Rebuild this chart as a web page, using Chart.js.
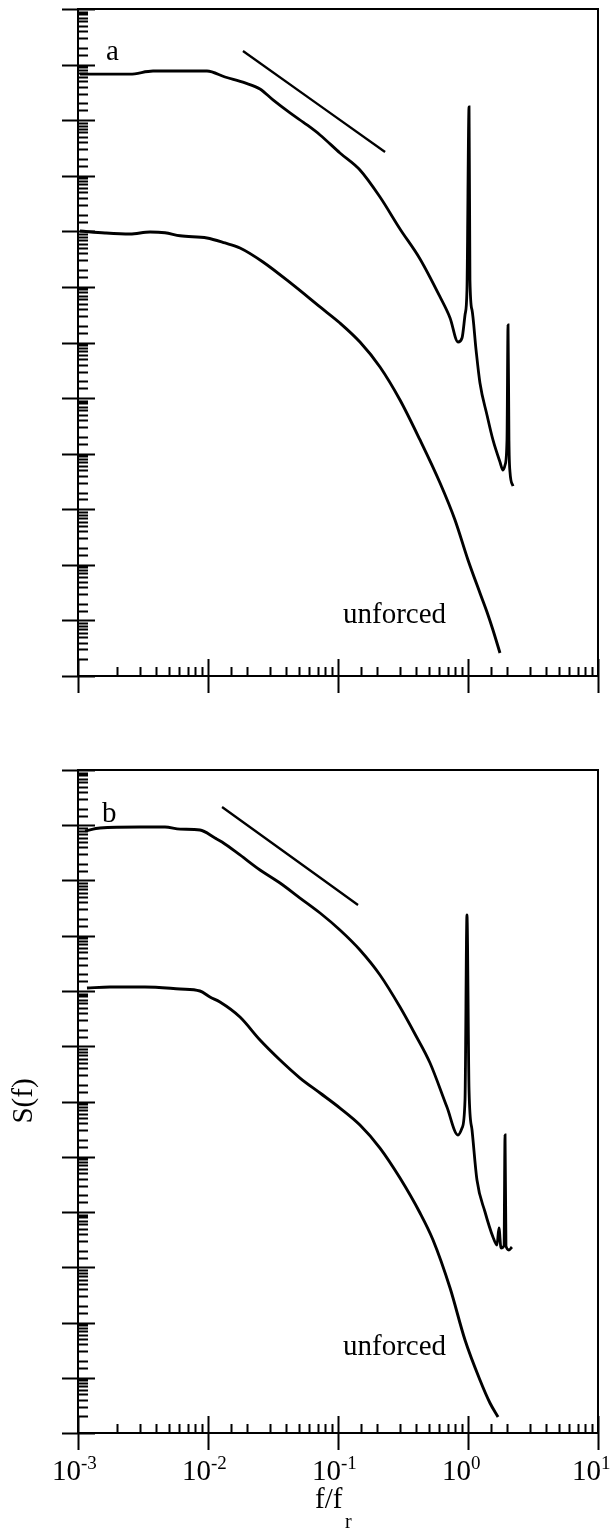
<!DOCTYPE html>
<html>
<head>
<meta charset="utf-8">
<title>S(f) spectra, forced and unforced</title>
<script src="https://cdn.jsdelivr.net/npm/chart.js@4.4.1/dist/chart.umd.min.js"></script>
<style>
    html, body { margin: 0; padding: 0; background: #fff; }
    .panel { position: absolute; left: 0; width: 616px; }
    #panelA { top: 0; height: 740px; }
    #panelB { top: 740px; height: 793px; }
</style>
</head>
<body>
<div class="panel" id="panelA"><canvas id="chartA" width="616" height="740"></canvas></div>
<div class="panel" id="panelB"><canvas id="chartB" width="616" height="793"></canvas></div>
<script>
// values are log10(f/fr) and log10(S) (S axis has no labels, decades only)
const F_MIN = 1e-3;
const F_MAX = 1e1;
const S_MIN = 1e0;
const S_MAX = 1e12;

// panel a
const aForcedF = [-2.985, -2.831, -2.6, -2.423, -2.215, -2.008, -1.869, -1.715, -1.6, -1.5, -1.369, -1.238, -1.138, -0.985,
    -0.831, -0.677, -0.523, -0.369, -0.215, -0.138, -0.077, -0.046, -0.023, -0.008, 0.008, 0.015, 0.031, 0.062, 0.092,
    0.146, 0.192, 0.246, 0.269, 0.285, 0.3, 0.308, 0.315, 0.323, 0.346];
const aForcedS = [10.83, 10.83, 10.83, 10.885, 10.885, 10.885, 10.777, 10.67, 10.561, 10.364, 10.13, 9.914, 9.734, 9.41,
    9.104, 8.618, 8.043, 7.503, 6.819, 6.441, 6.009, 6.081, 6.495, 6.945, 10.238, 7.125, 6.585, 5.865, 5.272,
    4.696, 4.246, 3.85, 3.706, 3.796, 4.246, 6.315, 4.246, 3.67, 3.418];

const aUnforcedF = [-2.985, -2.792, -2.6, -2.446, -2.331, -2.215, -2.008, -1.869, -1.754, -1.577, -1.346, -1.138, -0.985,
    -0.831, -0.677, -0.523, -0.369, -0.215, -0.1, 0, 0.092, 0.146, 0.192, 0.246];
const aUnforcedS = [8.006, 7.971, 7.953, 7.989, 7.975, 7.92, 7.881, 7.791, 7.701, 7.449, 7.035, 6.639, 6.351,
    6.009, 5.56, 4.966, 4.246, 3.472, 2.807, 2.087, 1.493, 1.151, 0.828, 0.414];

const aSlopeF = [-1.731, -0.638];
const aSlopeS = [11.245, 9.428];

// panel b
const bForcedF = [-2.946, -2.831, -2.523, -2.331, -2.215, -2.062, -1.946, -1.892, -1.754, -1.6, -1.446, -1.292, -1.138,
    -0.985, -0.831, -0.677, -0.523, -0.408, -0.292, -0.162, -0.077, -0.046, -0.023, -0.008, 0.008, 0.031, 0.069,
    0.131, 0.192, 0.223, 0.238, 0.254, 0.277, 0.285, 0.292, 0.315, 0.338];
const bForcedS = [10.896, 10.95, 10.968, 10.968, 10.93, 10.914, 10.769, 10.697, 10.462, 10.19, 9.955, 9.683, 9.412,
    9.104, 8.742, 8.29, 7.71, 7.222, 6.697, 5.9, 5.394, 5.52, 6.027, 9.376, 6.208, 5.484, 4.579,
    4.0, 3.548, 3.403, 3.71, 3.348, 3.385, 5.394, 3.385, 3.312, 3.367];

const bUnforcedF = [-2.931, -2.754, -2.485, -2.215, -2.062, -1.985, -1.908, -1.754, -1.6, -1.446, -1.292, -1.138, -0.985,
    -0.831, -0.677, -0.523, -0.369, -0.269, -0.138, -0.023, 0.092, 0.169, 0.231];
const bUnforcedS = [8.054, 8.072, 8.072, 8.036, 8.0, 7.891, 7.801, 7.529, 7.113, 6.751, 6.425, 6.154, 5.882,
    5.575, 5.158, 4.615, 3.982, 3.493, 2.624, 1.683, 0.959, 0.543, 0.29];

const bSlopeF = [-1.892, -0.846];
const bSlopeS = [11.33, 9.557];

const SERIF = "'Liberation Serif', 'Times New Roman', serif";

const toPoints = (logF, logS) => logF.map((lf, i) => ({ x: 10 ** lf, y: 10 ** logS[i] }));

const isDecade = (v) => {
    const l = Math.log10(v);
    return Math.abs(l - Math.round(l)) < 1e-6;
};

// frame, inward log ticks, decade labels and the little annotations
const framePlugin = {
    id: 'frame',
    afterDraw(chart, args, opts) {
        const { ctx, chartArea } = chart;
        const { left, right, top, bottom } = chartArea;
        const xs = chart.scales.x;
        const ys = chart.scales.y;

        ctx.save();
        ctx.strokeStyle = '#000';
        ctx.fillStyle = '#000';
        ctx.lineWidth = 2;
        ctx.strokeRect(left, top, right - left, bottom - top);

        ctx.beginPath();
        xs.ticks.forEach((t) => {
            const px = Math.round(xs.getPixelForValue(t.value)) + 0.5;
            if (isDecade(t.value)) {
                ctx.moveTo(px, bottom - 17);
                ctx.lineTo(px, bottom + 17);
            } else {
                ctx.moveTo(px, bottom);
                ctx.lineTo(px, bottom - 9);
            }
        });
        ys.ticks.forEach((t) => {
            const py = Math.round(ys.getPixelForValue(t.value)) + 0.5;
            if (isDecade(t.value)) {
                ctx.moveTo(left - 16, py);
                ctx.lineTo(left + 17, py);
            } else {
                ctx.moveTo(left, py);
                ctx.lineTo(left + 10, py);
            }
        });
        ctx.stroke();

        if (opts.tickLabels) {
            xs.ticks.filter((t) => isDecade(t.value)).forEach((t) => {
                const px = xs.getPixelForValue(t.value);
                const exp = Math.round(Math.log10(t.value));
                ctx.font = `29px ${SERIF}`;
                ctx.textAlign = 'right';
                ctx.textBaseline = 'alphabetic';
                ctx.fillText('10', px + 3, bottom + 47);
                ctx.font = `19px ${SERIF}`;
                ctx.textAlign = 'left';
                ctx.fillText(String(exp), px + 3, bottom + 36);
            });
        }

        (opts.texts || []).forEach((item) => {
            ctx.save();
            ctx.font = `${item.size || 29}px ${SERIF}`;
            ctx.textAlign = item.align || 'left';
            ctx.textBaseline = item.baseline || 'alphabetic';
            ctx.translate(item.x, item.y);
            if (item.rotate) ctx.rotate(item.rotate);
            ctx.fillText(item.text, 0, 0);
            ctx.restore();
        });
        ctx.restore();
    }
};

function lineSet(points, width) {
    return {
        data: points,
        showLine: true,
        borderColor: '#000',
        backgroundColor: '#000',
        borderWidth: width,
        pointRadius: 0,
        cubicInterpolationMode: 'monotone',
        fill: false
    };
}

function drawPanel(canvasId, series, padding, frameOpts) {
    return new Chart(document.getElementById(canvasId), {
        type: 'scatter',
        data: {
            datasets: [
                lineSet(toPoints(series.forcedF, series.forcedS), 2.8),
                lineSet(toPoints(series.unforcedF, series.unforcedS), 2.9),
                lineSet(toPoints(series.slopeF, series.slopeS), 2.3)
            ]
        },
        options: {
            responsive: false,
            animation: false,
            events: [],
            layout: { padding },
            plugins: {
                legend: { display: false },
                tooltip: { enabled: false },
                frame: frameOpts
            },
            scales: {
                x: {
                    type: 'logarithmic',
                    min: F_MIN,
                    max: F_MAX,
                    ticks: { display: false, autoSkip: false },
                    grid: { display: false, drawTicks: false },
                    border: { display: false }
                },
                y: {
                    type: 'logarithmic',
                    min: S_MIN,
                    max: S_MAX,
                    ticks: { display: false, autoSkip: false },
                    grid: { display: false, drawTicks: false },
                    border: { display: false }
                }
            }
        },
        plugins: [framePlugin]
    });
}

drawPanel('chartA', {
    forcedF: aForcedF, forcedS: aForcedS,
    unforcedF: aUnforcedF, unforcedS: aUnforcedS,
    slopeF: aSlopeF, slopeS: aSlopeS
}, { left: 78, right: 18, top: 9, bottom: 64 }, {
    tickLabels: false,
    texts: [
        { text: 'a', x: 106, y: 60 },
        { text: 'unforced', x: 343, y: 623 }
    ]
});

drawPanel('chartB', {
    forcedF: bForcedF, forcedS: bForcedS,
    unforcedF: bUnforcedF, unforcedS: bUnforcedS,
    slopeF: bSlopeF, slopeS: bSlopeS
}, { left: 78, right: 18, top: 30, bottom: 100 }, {
    tickLabels: true,
    texts: [
        { text: 'b', x: 102, y: 82 },
        { text: 'unforced', x: 343, y: 615 },
        { text: 'f/f', x: 315, y: 768 },
        { text: 'r', x: 345, y: 788, size: 20 },
        { text: 'S(f)', x: 24, y: 361, align: 'center', baseline: 'middle', rotate: -Math.PI / 2 }
    ]
});
</script>
</body>
</html>
